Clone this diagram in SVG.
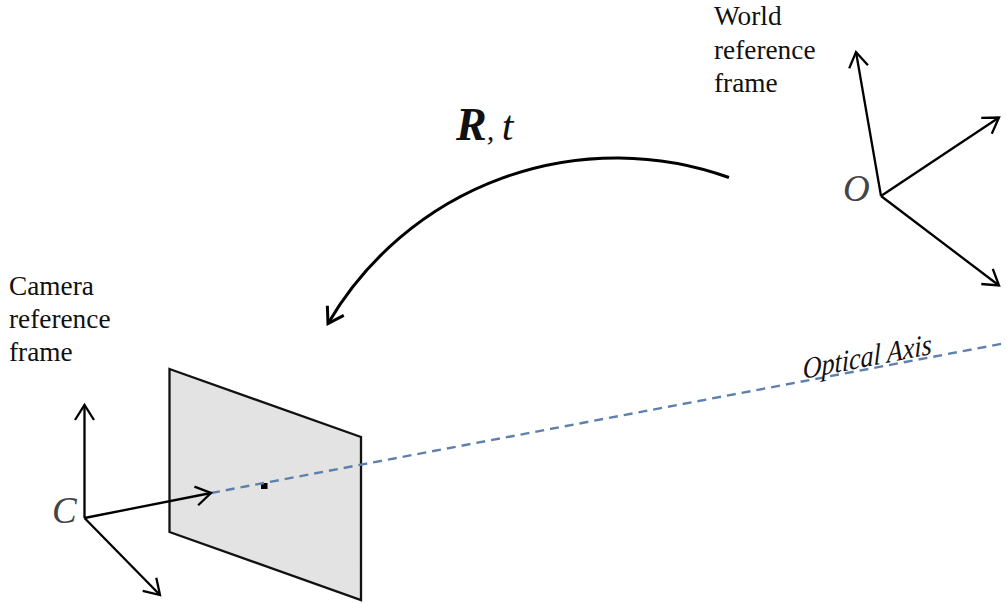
<svg xmlns="http://www.w3.org/2000/svg" width="1006" height="603" viewBox="0 0 1006 603">
<style>
text{font-family:"Liberation Serif","Times New Roman",serif;fill:#111}
.lbl{font-size:27.3px}
.sym{font-size:37px;font-style:italic;fill:#444}
.ax{fill:none;stroke:#000;stroke-width:2.3}
.opt{fill:none;stroke:#5f80ad;stroke-width:2.4;stroke-dasharray:9 6}
</style>
<defs>
<marker id="v" markerUnits="userSpaceOnUse" markerWidth="24" markerHeight="30" refX="19" refY="13" orient="auto" overflow="visible"><path d="M4 3.500L19 13L4 22.500" fill="none" stroke="#000" stroke-width="2.300"/></marker>
<marker id="v2" markerUnits="userSpaceOnUse" markerWidth="26" markerHeight="30" refX="19" refY="13" orient="auto" overflow="visible"><path d="M4 3.500L19 13L4 22.500" fill="none" stroke="#000" stroke-width="3"/></marker>
</defs>
<rect width="1006" height="603" fill="#fff"/>
<g id="image-plane"><polygon points="169.5,369 361,437 361,600 169.5,532" fill="#e3e3e3" stroke="#111" stroke-width="2.300"/><rect x="261" y="483" width="6.500" height="6" fill="#000"/></g>
<g id="connectors">
<path class="opt" d="M211 493L1006 343"/>
<path d="M729 177.500A334 334 0 0 0 328 323.500" fill="none" stroke="#000" stroke-width="3" marker-end="url(#v2)"/>
<path class="ax" d="M84.500 518V405" marker-end="url(#v)"/>
<path class="ax" d="M84.500 518L211 493" marker-end="url(#v)"/>
<path class="ax" d="M84.500 518L160 595" marker-end="url(#v)"/>
<path class="ax" d="M881 196L856 52" marker-end="url(#v)"/>
<path class="ax" d="M881 196L999 117.500" marker-end="url(#v)"/>
<path class="ax" d="M881 196L999 285.500" marker-end="url(#v)"/>
</g>
<g id="world-frame"><text class="lbl" x="714" y="25">World</text><text class="lbl" x="714" y="59">reference</text><text class="lbl" x="714" y="92">frame</text><text class="sym" x="843" y="201">O</text></g>
<g id="camera-frame"><text class="lbl" x="9" y="295">Camera</text><text class="lbl" x="9" y="328">reference</text><text class="lbl" x="9" y="361">frame</text><text class="sym" x="52" y="523">C</text></g>
<g id="transform"><text x="456" y="140" font-size="30" font-style="italic"><tspan font-size="46" font-weight="bold">R</tspan>, <tspan font-size="42">t</tspan></text></g>
<g id="optical-axis"><text transform="translate(803,379) rotate(-11) skewX(-10) scale(1,1.12)" font-size="26.500" font-style="italic">Optical Axis</text></g>
</svg>
